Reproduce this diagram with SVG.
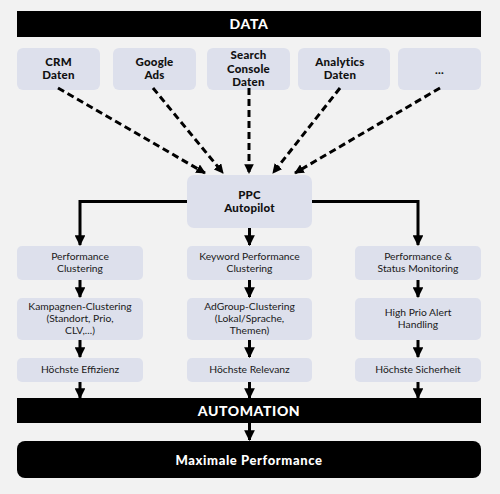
<svg xmlns="http://www.w3.org/2000/svg" width="500" height="494" viewBox="0 0 500 494">
<defs>
<marker id="ah" viewBox="0 0 10 10" refX="9" refY="5" markerWidth="3.2" markerHeight="3.2" orient="auto" markerUnits="strokeWidth">
<path d="M0,0 L10,5 L0,10 Z" fill="#000"/>
</marker>
<marker id="ah2" viewBox="0 0 10 10" refX="9" refY="5" markerWidth="3.6" markerHeight="3.6" orient="auto" markerUnits="strokeWidth">
<path d="M0,0 L10,5 L0,10 Z" fill="#000"/>
</marker>
<style>
.bar{fill:#000}
.box{fill:#dde0ec}
.h{font-family:"Lato","DejaVu Sans",sans-serif;font-weight:900;fill:#fff;text-anchor:middle;letter-spacing:0.6px}
.t{font-family:"Lato","DejaVu Sans",sans-serif;font-weight:900;font-size:11.5px;fill:#111;text-anchor:middle;letter-spacing:0.2px}
.b{font-family:"Lato","Open Sans",sans-serif;font-size:10.3px;fill:#1a1a1a;text-anchor:middle}
.dash{stroke:#000;stroke-width:3;fill:none;stroke-dasharray:7 4;marker-end:url(#ah)}
.sol{stroke:#000;stroke-width:3;fill:none;marker-end:url(#ah2)}
</style>
</defs>
<rect width="500" height="494" fill="#f2f2f2"/>
<g id="data"><rect class="bar" x="17" y="11" width="464" height="26"/><text class="h" x="249" y="29" font-size="14">DATA</text></g>
<g id="crm"><rect class="box" x="17" y="48" width="83" height="42" rx="6"/><text class="t" x="58.5" y="65.5">CRM</text><text class="t" x="58.5" y="79">Daten</text></g>
<g id="gads"><rect class="box" x="113" y="48" width="83" height="42" rx="6"/><text class="t" x="154.5" y="65.5">Google</text><text class="t" x="154.5" y="79">Ads</text></g>
<g id="gsc"><rect class="box" x="207" y="48" width="83" height="42" rx="6"/><text class="t" x="248.5" y="59">Search</text><text class="t" x="248.5" y="72.5">Console</text><text class="t" x="248.5" y="86">Daten</text></g>
<g id="analytics"><rect class="box" x="298" y="48" width="92" height="42" rx="6"/><text class="t" x="340" y="65.5">Analytics</text><text class="t" x="340" y="79">Daten</text></g>
<g id="more"><rect class="box" x="398" y="48" width="83" height="42" rx="6"/><text class="t" x="439.5" y="74">...</text></g>
<g id="ppc"><rect class="box" x="187" y="175" width="125" height="53" rx="7"/><text class="t" x="249.5" y="198.5">PPC</text><text class="t" x="249.5" y="212">Autopilot</text></g>
<g id="pc"><rect class="box" x="17" y="246" width="126" height="34" rx="5"/><text class="b" x="80" y="260">Performance</text><text class="b" x="80" y="272">Clustering</text></g>
<g id="kpc"><rect class="box" x="187" y="246" width="125" height="34" rx="5"/><text class="b" x="249.5" y="260">Keyword Performance</text><text class="b" x="249.5" y="272">Clustering</text></g>
<g id="psm"><rect class="box" x="355" y="246" width="126" height="34" rx="5"/><text class="b" x="418" y="260">Performance &amp;</text><text class="b" x="418" y="272">Status Monitoring</text></g>
<g id="kc"><rect class="box" x="17" y="298" width="126" height="42" rx="5"/><text class="b" x="80" y="310">Kampagnen-Clustering</text><text class="b" x="80" y="322">(Standort, Prio,</text><text class="b" x="80" y="334">CLV,...)</text></g>
<g id="agc"><rect class="box" x="187" y="298" width="125" height="42" rx="5"/><text class="b" x="249.5" y="310">AdGroup-Clustering</text><text class="b" x="249.5" y="322">(Lokal/Sprache,</text><text class="b" x="249.5" y="334">Themen)</text></g>
<g id="hpa"><rect class="box" x="355" y="298" width="126" height="42" rx="5"/><text class="b" x="418" y="316">High Prio Alert</text><text class="b" x="418" y="328">Handling</text></g>
<g id="he"><rect class="box" x="17" y="358" width="126" height="24" rx="5"/><text class="b" x="80" y="373">Höchste Effizienz</text></g>
<g id="hr"><rect class="box" x="187" y="358" width="125" height="24" rx="5"/><text class="b" x="249.5" y="373">Höchste Relevanz</text></g>
<g id="hs"><rect class="box" x="355" y="358" width="126" height="24" rx="5"/><text class="b" x="418" y="373">Höchste Sicherheit</text></g>
<g id="automation"><rect class="bar" x="17" y="398" width="464" height="25"/><text class="h" x="249" y="415.5" font-size="14">AUTOMATION</text></g>
<g id="maxperf"><rect class="bar" x="17" y="441" width="464" height="37" rx="8"/><text class="h" x="249" y="464.5" font-size="13">Maximale Performance</text></g>
<g id="connectors">
<path class="dash" d="M58,88 L205,173"/>
<path class="dash" d="M153,88 L223,173"/>
<path class="dash" d="M249,88 L249,173"/>
<path class="dash" d="M340,88 L273,173"/>
<path class="dash" d="M440,88 L295,173"/>
<path class="sol" d="M187,201.5 L80,201.5 L80,245"/>
<path class="sol" d="M312,201.5 L418,201.5 L418,245"/>
<path class="sol" d="M249.5,228 L249.5,245"/>
<path class="sol" d="M80,280 L80,297"/>
<path class="sol" d="M249.5,280 L249.5,297"/>
<path class="sol" d="M418,280 L418,297"/>
<path class="sol" d="M80,340 L80,357"/>
<path class="sol" d="M249.5,340 L249.5,357"/>
<path class="sol" d="M418,340 L418,357"/>
<path class="sol" d="M80,382 L80,398"/>
<path class="sol" d="M249.5,382 L249.5,398"/>
<path class="sol" d="M418,382 L418,398"/>
<path class="sol" d="M249.5,423 L249.5,440"/>
</g>
</svg>
